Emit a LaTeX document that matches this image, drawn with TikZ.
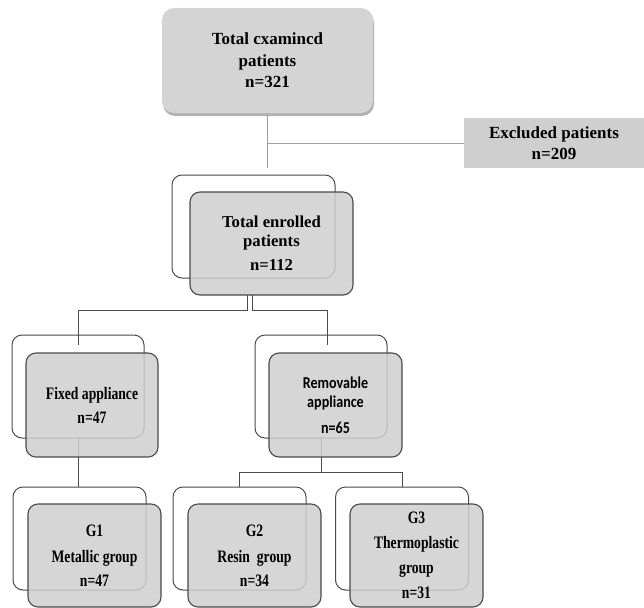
\documentclass[tikz,border=0pt]{standalone}
\usepackage{fontspec}
\setmainfont{Liberation Serif}
\newfontfamily\calib[FakeStretch=0.85]{Carlito}
\newfontfamily\condserif[FakeStretch=0.78]{Liberation Serif}
\usetikzlibrary{shadows}
\definecolor{boxfill}{HTML}{CFCFCF}
\definecolor{topfill}{HTML}{D4D4D4}
\definecolor{edge}{HTML}{4A4A4A}
\definecolor{lightline}{HTML}{A0A0A0}
\tikzset{
  backbox/.style={draw=edge, line width=1pt, fill=white, rounded corners=10pt, inner sep=0pt},
  frontbox/.style={draw=edge, line width=1.1pt, fill=boxfill, fill opacity=0.85, text opacity=1, rounded corners=10pt, inner sep=0pt, align=center, font=\condserif\bfseries\fontsize{17.5}{21}\selectfont},
  enrbox/.style={frontbox, font=\bfseries\fontsize{16.7}{19}\selectfont},
  topbox/.style={fill=topfill, rounded corners=12pt, inner sep=0pt, align=center, font=\bfseries\fontsize{17}{21.5}\selectfont, drop shadow={shadow xshift=1pt, shadow yshift=-3pt, fill=black!60, opacity=0.5}},
  exclbox/.style={fill=boxfill, inner sep=0pt, align=center, font=\bfseries\fontsize{17}{21}\selectfont},
  conn/.style={draw=edge, line width=1pt},
  lconn/.style={draw=lightline, line width=1pt}
}
\begin{document}
\begin{tikzpicture}[x=1pt,y=-1pt]
\useasboundingbox (0,0) rectangle (644,607);
% top
\node[topbox, minimum width=211pt, minimum height=105pt] (top) at (267.5,60.5) {Total cxamincd\\patients\\n=321};
\node[exclbox, minimum width=180pt, minimum height=50pt] (excl) at (554,143) {Excluded patients\\n=209};
% back boxes
\node[backbox, minimum width=163pt, minimum height=103pt] (enrB) at (253.5,226.5) {};
\node[backbox, minimum width=132pt, minimum height=103pt] (fixB) at (78,386.5) {};
\node[backbox, minimum width=132pt, minimum height=103pt] (remB) at (321,386.5) {};
\node[backbox, minimum width=133pt, minimum height=103pt] (g1B) at (79.5,538.5) {};
\node[backbox, minimum width=133pt, minimum height=103pt] (g2B) at (239.5,538.5) {};
\node[backbox, minimum width=133pt, minimum height=103pt] (g3B) at (402,538.5) {};
% connectors
\coordinate (tj) at (top.south |- excl.west);
\draw[lconn] (top.south) -- ([yshift=7pt]top.south |- enrB.north);
\draw[lconn] (tj) -- (excl.west);
\coordinate (e1) at (247,295);
\coordinate (e2) at (252,295);
\draw[conn] (e1) -- (247,310) -| ([yshift=-10pt]fixB.north);
\draw[conn] (e2) -- (252,310) -| ([yshift=-10pt]remB.north -| 327,0);
\draw[conn] ([yshift=2pt]fixB.south) -- (fixB.south |- g1B.north);
\draw[conn] ([yshift=2pt]remB.south) -- (321,472) -| (g2B.north);
\draw[conn] (321,472) -| (g3B.north);
% front boxes
\node[enrbox, minimum width=163pt, minimum height=103pt] (enr) at (271.5,243.5) {Total enrolled\\patients\\[5pt]n=112};
\node[frontbox, minimum width=132pt, minimum height=104pt] (fix) at (92,405) {Fixed appliance\\[3pt]n=47};
\node[frontbox, minimum width=133pt, minimum height=104pt, font=\calib\bfseries\fontsize{16.6}{19}\selectfont] (rem) at (335.5,405) {Removable\\appliance\\[7pt]n=65};
\node[frontbox, minimum width=133pt, minimum height=103pt] (g1) at (94.5,555.5) {G1\\[5pt]Metallic group\\[3pt]n=47};
\node[frontbox, minimum width=133pt, minimum height=103pt] (g2) at (254.5,555.5) {G2\\[5pt]Resin\ \ group\\[3pt]n=34};
\node[frontbox, minimum width=133pt, minimum height=103pt] (g3) at (416.5,555.5) {G3\\[4pt]Thermoplastic\\[4pt]group\\[4pt]n=31};
\end{tikzpicture}
\end{document}
